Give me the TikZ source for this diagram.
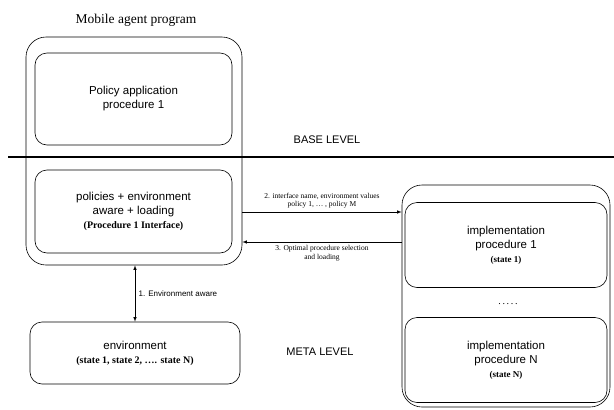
\documentclass[tikz,border=0pt]{standalone}
\usepackage{fontspec}
\setmainfont{Liberation Serif}
\setsansfont{Liberation Sans}
\usetikzlibrary{positioning}
\tikzset{>=latex}

\begin{document}
\begin{tikzpicture}[x=1pt,y=-1pt,semithick,
  box/.style={draw,rounded corners=12pt,align=center,inner sep=0pt,
    font=\sffamily\fontsize{11.5}{14}\selectfont},
  outer/.style={draw,rounded corners=20pt,inner sep=0pt},
  lbl/.style={font=\fontsize{7.5}{8.5}\selectfont,align=center},
  lvl/.style={font=\sffamily\fontsize{11}{13}\selectfont}]
  \useasboundingbox (0,0) rectangle (614,410);
  % base level
  \node[font=\fontsize{13.5}{15}\selectfont] (title) at (136,20) {Mobile agent program};
  \node[outer,minimum width=216pt,minimum height=228pt] (agent) at (134,151) {};
  \node[box,minimum width=197pt,minimum height=92pt] (policy) at (133.5,99)
    {Policy application\\procedure 1};
  \node[box,minimum width=197pt,minimum height=83pt] (iface) at (133.5,211.5)
    {policies + environment\\aware + loading\\{\rmfamily\bfseries\fontsize{10}{12}\selectfont(Procedure 1 Interface)}};
  \node[lvl] (base) at (327,140) {BASE LEVEL};
  \draw[line width=2.5pt] (8,157) -- (614,157);
  % meta level
  \node[box,minimum width=210pt,minimum height=62pt] (env) at (135,353)
    {environment\\{\rmfamily\bfseries\fontsize{10}{12}\selectfont(state 1, state 2, \dots . state N)}};
  \node[lvl] (meta) at (320,352) {META LEVEL};
  \node[outer,minimum width=208pt,minimum height=222pt] (impl) at (506,296) {};
  \foreach \n/\y in {1/245,N/360} {
    \node[box,minimum width=202pt,minimum height=85pt] (proc\n) at (506,\y)
      {implementation\\procedure \n\\{\rmfamily\bfseries\fontsize{9}{11}\selectfont(state \n)}};
  }
  \node (dots) at (508,304) {.\,.\,.\,.\,.};
  % connectors
  \coordinate (ax) at (135,0);
  \coordinate (a2) at (0,212);
  \coordinate (a3) at (0,242);
  \draw[<->] (agent.south -| ax) -- node[right,font=\sffamily\fontsize{8}{9}\selectfont] {1. Environment aware} (env.north -| ax);
  \draw[->] (agent.east |- a2) -- node[lbl,above] {2. interface name, environment values\\policy 1, \dots\ , policy M} (impl.west |- a2);
  \draw[->] (impl.west |- a3) -- node[lbl,below] {3. Optimal procedure selection\\and loading} (agent.east |- a3);
\end{tikzpicture}
\end{document}
